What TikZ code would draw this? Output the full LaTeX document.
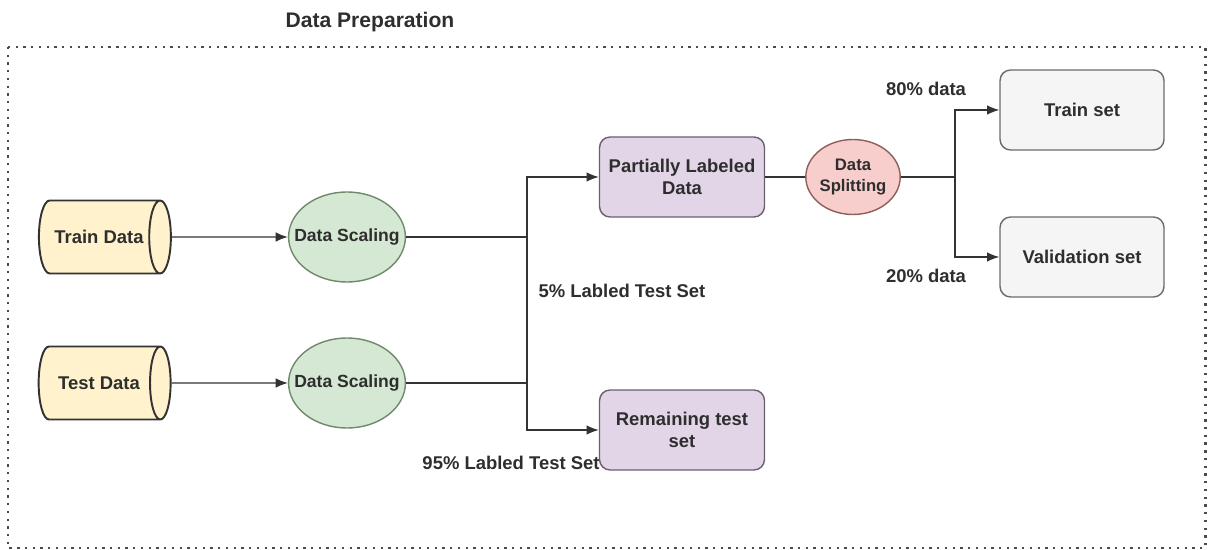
\documentclass[tikz,border=0pt]{standalone}
\usepackage{fontspec}
\setmainfont{Liberation Sans}
\usepackage{tikz}
\usetikzlibrary{shapes,arrows.meta,positioning,calc}
\definecolor{dbfill}{HTML}{FFF2CC}
\definecolor{scfill}{HTML}{D5E8D4}
\definecolor{scdraw}{HTML}{6E8A6A}
\definecolor{lbfill}{HTML}{E1D5E7}
\definecolor{lbdraw}{HTML}{6A5F70}
\definecolor{spfill}{HTML}{F8CECC}
\definecolor{spdraw}{HTML}{8E5E5B}
\definecolor{stfill}{HTML}{F5F5F5}
\definecolor{stdraw}{HTML}{6B6B6B}
\definecolor{txt}{HTML}{2E2E2E}

\begin{document}
\begin{tikzpicture}[>={Latex[length=7pt,width=5.5pt]}, x=0.02cm, y=-0.02cm,
    every node/.style={text=txt, font=\bfseries\fontsize{10.5}{12.5}\selectfont},
    dbase/.style={cylinder, draw=black!80, line width=1.1pt, cylinder uses custom fill,
        cylinder body fill=dbfill, cylinder end fill=dbfill, aspect=1.6,
        minimum width=1.46cm, minimum height=2.64cm, inner sep=0pt},
    scaler/.style={ellipse, draw=scdraw, fill=scfill, line width=0.8pt,
        minimum width=2.32cm, minimum height=1.8cm, inner xsep=-6.5pt, inner ysep=0pt,
        font=\bfseries\fontsize{10}{12}\selectfont},
    labeled/.style={rectangle, rounded corners=6pt, draw=lbdraw, fill=lbfill, line width=0.8pt,
        minimum width=3.3cm, minimum height=1.6cm, align=center},
    splitter/.style={ellipse, draw=spdraw, fill=spfill, line width=0.8pt,
        minimum width=1.8cm, minimum height=1.5cm, inner sep=0pt, align=center,
        font=\bfseries\fontsize{9.5}{11.5}\selectfont},
    subset/.style={rectangle, rounded corners=6pt, draw=stdraw, fill=stfill, line width=0.8pt,
        minimum width=3.28cm, minimum height=1.6cm},
    link/.style={line width=0.8pt, black!80},
    ]
\useasboundingbox (0,0) rectangle (1210,550);

% frame
\node (title) at (370,22) {\fontsize{12}{14}\selectfont Data Preparation};
\draw[line width=1.7pt, dash pattern=on 1.3pt off 3.1pt, black!70] (8,47) rectangle (1205,548);

% inputs
\node[dbase] (train) at (99,237) {Train Data};
\node[dbase] (test) at (99,383) {Test Data};
\node[scaler] (scale1) at (347,237) {Data Scaling};
\node[scaler] (scale2) at (347,383) {Data Scaling};

% outputs
\node[labeled] (partial) at (682,177) {Partially Labeled\\Data};
\node[labeled] (remain) at (682,430) {Remaining test\\set};
\node[splitter] (split) at (853,177) {Data\\Splitting};
\node[subset] (trainset) at (1082,110) {Train set};
\node[subset] (valset) at (1082,257) {Validation set};

\coordinate (fork1) at (527,383);
\coordinate (fork2) at (955,177);

\draw[link,->] (train) -- (scale1);
\draw[link,->] (test) -- (scale2);
\draw[link] (scale1) -- (scale1 -| fork1);
\draw[link] (scale2) -- (fork1);
\draw[link,->] (fork1) |- (partial);
\draw[link,->] (fork1) |- (remain);
\draw[link] (partial) -- (split);
\draw[link] (split) -- (fork2);
\draw[link,->] (fork2) |- (trainset);
\draw[link,->] (fork2) |- (valset);

% labels
\node (lab5) at (622,291) {5\% Labled Test Set};
\node (lab95) at (511,463) {95\% Labled Test Set};
\node (lab80) at (926,89) {80\% data};
\node (lab20) at (926,276) {20\% data};
\end{tikzpicture}
\end{document}
